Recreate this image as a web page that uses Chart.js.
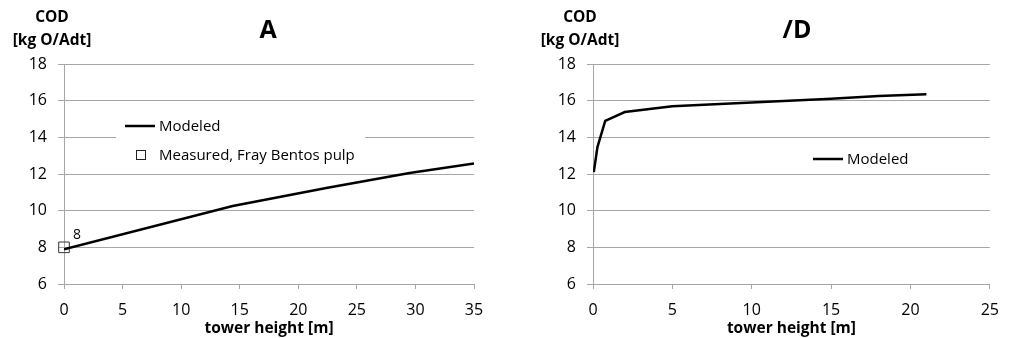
<!DOCTYPE html>
<html>
<head>
<meta charset="utf-8">
<script src="https://cdn.jsdelivr.net/npm/chart.js@4.4.1/dist/chart.umd.min.js"></script>
<style>
  body { margin: 0; background: #fff; width: 1011px; height: 338px; position: relative; overflow: hidden; }
  .box { position: absolute; top: 0; width: 505px; height: 338px; }
</style>
</head>
<body>
<div class="box" style="left:0"><canvas id="chartA"></canvas></div>
<div class="box" style="left:506px"><canvas id="chartD"></canvas></div>
<script>
// panel A: modeled line + one measured point
const heightA = [0, 14.4, 22.5, 29.5, 35];
const codA = [7.9, 10.25, 11.25, 12.05, 12.58];
const measuredHeight = [0];
const measuredCod = [8];

// panel /D: modeled line only
const heightD = [0.05, 0.28, 0.77, 2, 5, 10, 15, 18, 21];
const codD = [12.1, 13.47, 14.9, 15.38, 15.7, 15.9, 16.1, 16.25, 16.35];

const yMin = 6, yMax = 18, yStep = 2;
const xStep = 5;

const FONT = "'Open Sans', 'Liberation Sans', sans-serif";
const GRID = '#a6a6a6';

function toPoints(xs, ys) {
  return xs.map((x, i) => ({ x: x, y: ys[i] }));
}

// titles, the horizontal y axis title, legend box and data label
const overlay = {
  id: 'overlay',
  beforeDatasetsDraw(chart, args, opts) {
    const ctx = chart.ctx;
    const lg = opts.legend;
    ctx.save();
    ctx.fillStyle = '#fff';
    ctx.fillRect(lg.x, lg.y, lg.w, lg.h);
    ctx.restore();
  },
  afterDraw(chart, args, opts) {
    const ctx = chart.ctx;
    ctx.save();
    ctx.fillStyle = '#000';
    ctx.textAlign = 'center';
    ctx.textBaseline = 'middle';
    ctx.font = 'bold 25px ' + FONT;
    ctx.fillText(opts.title, opts.titleX, 31);
    ctx.font = 'bold 15.5px ' + FONT;
    ctx.fillText('COD', opts.yTitleX, 18);
    ctx.fillText('[kg O/Adt]', opts.yTitleX, 41);

    // legend
    const lg = opts.legend;
    ctx.font = '15px ' + FONT;
    ctx.textAlign = 'left';
    let y = lg.firstY;
    chart.data.datasets.forEach(ds => {
      if (ds.showLine) {
        ctx.strokeStyle = '#000';
        ctx.lineWidth = 2.5;
        ctx.beginPath();
        ctx.moveTo(lg.sampleX, y);
        ctx.lineTo(lg.sampleX + 30, y);
        ctx.stroke();
      } else {
        ctx.strokeStyle = '#222';
        ctx.lineWidth = 1;
        ctx.strokeRect(lg.sampleX + 11.5, y - 4.5, 9, 9);
      }
      ctx.fillStyle = '#000';
      ctx.fillText(ds.label, lg.sampleX + 34, y + 1);
      y += lg.gap;
    });

    // data label next to the measured point
    ctx.font = '14px ' + FONT;
    chart.data.datasets.forEach((ds, i) => {
      if (ds.showLine) return;
      const meta = chart.getDatasetMeta(i);
      meta.data.forEach((pt, j) => {
        ctx.fillText(String(ds.data[j].y), pt.x + 9, pt.y - 12);
      });
    });
    ctx.restore();
  }
};

function makeChart(id, datasets, xMax, yWidth, rightPad, overlayOpts) {
  return new Chart(document.getElementById(id), {
    type: 'scatter',
    data: { datasets: datasets },
    plugins: [overlay],
    options: {
      responsive: true,
      maintainAspectRatio: false,
      animation: false,
      layout: { padding: { top: 64, right: rightPad, left: 0, bottom: 0 } },
      plugins: {
        legend: { display: false },
        tooltip: { enabled: false },
        overlay: overlayOpts
      },
      scales: {
        x: {
          type: 'linear',
          min: 0,
          max: xMax,
          ticks: { stepSize: xStep, color: '#000', padding: 12, maxRotation: 0, font: { family: FONT, size: 16 } },
          grid: { drawOnChartArea: false, drawTicks: true, tickLength: 5, color: GRID },
          border: { color: GRID, width: 1 },
          title: { display: true, text: 'tower height [m]', color: '#000', padding: 0, font: { family: FONT, size: 15.5, weight: 'bold' } },
          afterFit(scale) { scale.height = 54; }
        },
        y: {
          min: yMin,
          max: yMax,
          ticks: { stepSize: yStep, color: '#000', padding: 11, font: { family: FONT, size: 16 } },
          grid: { color: GRID, tickLength: 6 },
          border: { color: GRID, width: 1 },
          afterFit(scale) { scale.width = yWidth; }
        }
      }
    }
  });
}

makeChart('chartA', [
  {
    label: 'Modeled',
    data: toPoints(heightA, codA),
    showLine: true,
    borderColor: '#000',
    borderWidth: 2.5,
    pointRadius: 0,
    tension: 0
  },
  {
    label: 'Measured, Fray Bentos pulp',
    data: toPoints(measuredHeight, measuredCod),
    showLine: false,
    clip: false,
    pointStyle: 'rect',
    pointRadius: 7.5,
    backgroundColor: 'rgba(0,0,0,0)',
    borderColor: '#333',
    borderWidth: 1
  }
], 35, 64, 31, {
  title: 'A', titleX: 268, yTitleX: 52,
  legend: { x: 116, y: 112, w: 249, h: 56, sampleX: 125, firstY: 126, gap: 29 }
});

makeChart('chartD', [
  {
    label: 'Modeled',
    data: toPoints(heightD, codD),
    showLine: true,
    borderColor: '#000',
    borderWidth: 2.5,
    pointRadius: 0,
    tension: 0
  }
], 25, 87, 9, {
  title: '/D', titleX: 291, yTitleX: 74,
  legend: { x: 300, y: 148, w: 110, h: 22, sampleX: 307, firstY: 159, gap: 29 }
});
</script>
</body>
</html>
